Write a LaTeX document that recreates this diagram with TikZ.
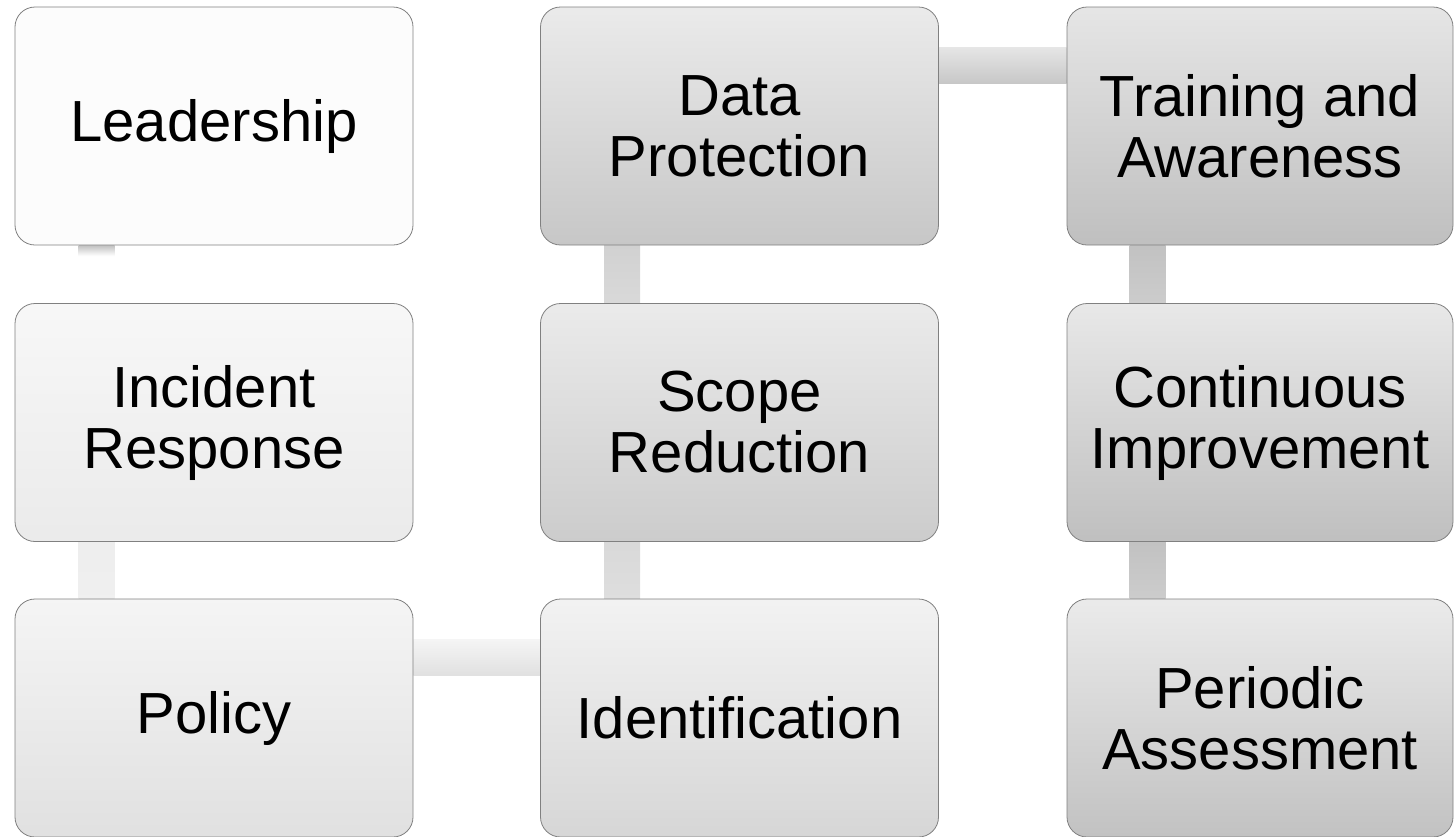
\documentclass[tikz,border=0pt]{standalone}
\usepackage{fontspec}
\setmainfont{Liberation Sans}
\usepackage{xcolor}
\usepackage{tikz}
\usetikzlibrary{backgrounds}

% fades out right below the top box
\pgfdeclareverticalshading{stubfade}{100bp}{color(0bp)=(white); color(66bp)=(white); color(75bp)=(black!24); color(100bp)=(black!24)}

\begin{document}
\begin{tikzpicture}[x=1pt, y=-1pt,
    every node/.style={font=\fontsize{58}{61}\selectfont, align=center},
    box/.style 2 args={draw=black!50, line width=0.8pt, rounded corners=20pt,
        minimum width=398pt, minimum height=238pt, inner sep=0pt,
        top color=#1, bottom color=#2},
    link/.style 2 args={top color=#1, bottom color=#2}]
    \useasboundingbox (0,0) rectangle (1455,836);

    % Column 1 - bottom up
    \node[box={black!1}{black!1}] (lead) at (214,126) {Leadership};
    \node[box={black!3}{black!8}] (inc) at (214,422.5) {Incident\\Response};
    \node[box={black!4}{black!12}] (pol) at (214,718) {Policy};

    % Column 2 - up again
    \node[box={black!5}{black!16}] (ident) at (739.5,718) {Identification};
    \node[box={black!8}{black!20}] (scope) at (739.5,422.5) {Scope\\Reduction};
    \node[box={black!8}{black!22}] (data) at (739.5,126) {Data\\Protection};

    % Column 3 - down, a bit narrower
    \node[box={black!10}{black!25}, minimum width=386pt] (train) at (1260,126) {Training and\\Awareness};
    \node[box={black!9}{black!25}, minimum width=386pt] (cont) at (1260,422.5) {Continuous\\Improvement};
    \node[box={black!8}{black!24}, minimum width=386pt] (per) at (1260,718) {Periodic\\Assessment};

    % Links between the boxes
    \begin{scope}[on background layer]
        \path[shade, shading=stubfade] ([xshift=64pt]lead.south west) rectangle ([xshift=100pt]inc.north west);
        \path[link={black!7}{black!6}] ([xshift=64pt]inc.south west) rectangle ([xshift=100pt]pol.north west);
        \path[link={black!4}{black!12}] ([yshift=-41pt]pol.north east) rectangle ([yshift=-77pt]ident.north west);
        \path[link={black!15}{black!13}] ([xshift=64pt]ident.north west) rectangle ([xshift=100pt]scope.south west);
        \path[link={black!18}{black!15}] ([xshift=64pt]scope.north west) rectangle ([xshift=100pt]data.south west);
        \path[link={black!10}{black!22}] ([yshift=-41pt]data.north east) rectangle ([yshift=-77pt]train.north west);
        \path[link={black!24}{black!20}] ([xshift=63pt]train.south west) rectangle ([xshift=99pt]cont.north west);
        \path[link={black!24}{black!20}] ([xshift=63pt]cont.south west) rectangle ([xshift=99pt]per.north west);
    \end{scope}
\end{tikzpicture}
\end{document}
